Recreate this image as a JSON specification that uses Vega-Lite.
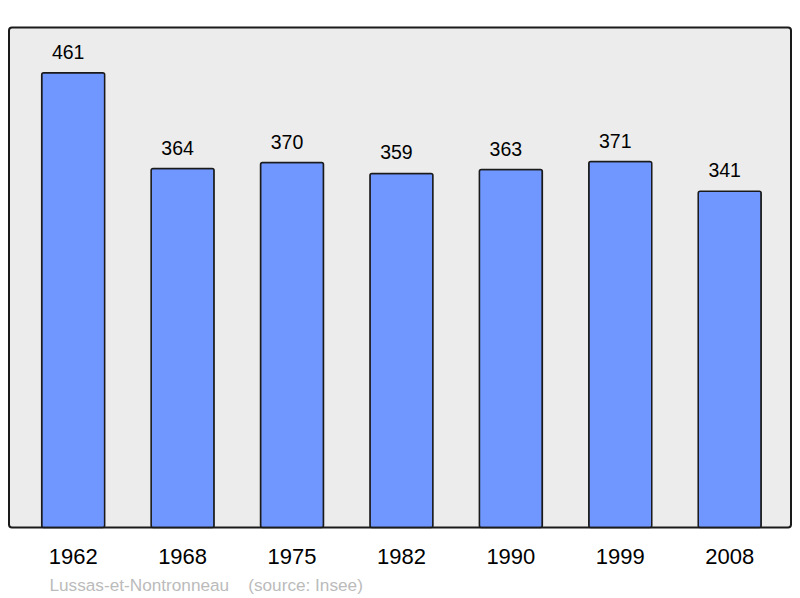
{
  "$schema": "https://vega.github.io/schema/vega-lite/v6.json",
  "width": 782,
  "height": 500,
  "autosize": {"type": "none"},
  "padding": {"left": 9, "top": 27.5, "right": 9, "bottom": 70.5},
  "background": "#ffffff",
  "config": {
    "font": "Liberation Sans",
    "view": {"fill": "#ececec", "stroke": "#1a1a1a", "strokeWidth": 2, "cornerRadius": 3}
  },
  "data": {
    "values": [
      {"year": "1962", "pop": 461},
      {"year": "1968", "pop": 364},
      {"year": "1975", "pop": 370},
      {"year": "1982", "pop": 359},
      {"year": "1990", "pop": 363},
      {"year": "1999", "pop": 371},
      {"year": "2008", "pop": 341}
    ]
  },
  "encoding": {
    "x": {
      "field": "year",
      "type": "ordinal",
      "sort": null,
      "scale": {"paddingInner": 0.4243, "paddingOuter": 0.2856, "align": 0.523},
      "axis": {
        "domain": false,
        "ticks": false,
        "labelAngle": 0,
        "labelFontSize": 22,
        "labelColor": "#000000",
        "labelPadding": 19,
        "title": "Lussas-et-Nontronneau\u00a0\u00a0\u00a0\u00a0(source: Insee)",
        "titleFontSize": 17.2,
        "titleFontWeight": "normal",
        "titleColor": "#bbbbbb",
        "titleAnchor": "start",
        "titleAlign": "left",
        "titleX": 40,
        "titlePadding": 9
      }
    },
    "y": {
      "field": "pop",
      "type": "quantitative",
      "scale": {"domain": [0, 507], "nice": false, "zero": true},
      "axis": null
    }
  },
  "layer": [
    {
      "mark": {"type": "bar", "color": "#7097ff", "stroke": "#1a1a1a", "strokeWidth": 1.5, "cornerRadius": 2}
    },
    {
      "mark": {"type": "text", "baseline": "alphabetic", "dy": -14, "dx": -5, "fontSize": 19.5, "color": "#000000"},
      "encoding": {"text": {"field": "pop", "type": "quantitative"}}
    }
  ]
}
